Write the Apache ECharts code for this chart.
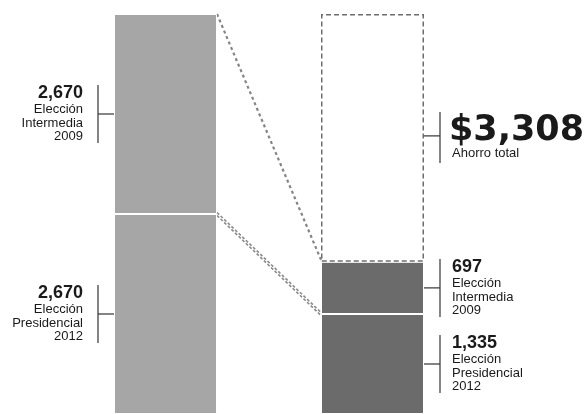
<!DOCTYPE html>
<html>
<head>
<meta charset="utf-8">
<script src="https://cdn.jsdelivr.net/npm/echarts@6/dist/echarts.min.js"></script>
<style>
html,body{margin:0;padding:0;background:#fff;}
#chart{width:588px;height:414px;}
</style>
</head>
<body>
<div id="chart"></div>
<script>
// ---- data ----
const categories = ['Gasto', 'Gasto con ahorro'];
const presidencial2012 = [2670, 1335];
const intermedia2009 = [2670, 697];
const ahorroTotal = [null, 3308];
const presidencialName = ['Elección', 'Presidencial', '2012'];
const intermediaName = ['Elección', 'Intermedia', '2009'];
const ahorroName = 'Ahorro total';
const barColors = ['#a6a6a6', '#6b6b6b'];

// ---- derived segments for labels & connectors ----
const fmt = v => v.toLocaleString('en-US');
const segments = [];
categories.forEach((c, ci) => {
  let base = 0;
  [[presidencial2012, presidencialName], [intermedia2009, intermediaName]].forEach(([arr, name]) => {
    segments.push({cat: ci, low: base, high: base + arr[ci], num: fmt(arr[ci]), name: name.join('\n'), big: false});
    base += arr[ci];
  });
  if (ahorroTotal[ci] != null) {
    segments.push({cat: ci, low: base, high: base + ahorroTotal[ci], num: '$' + fmt(ahorroTotal[ci]), name: ahorroName, big: true});
  }
});
const totals = categories.map((c, i) => presidencial2012[i] + intermedia2009[i]);
const grandTotal = totals[0];
// connectors: top of left bar -> top of right filled bar ; split left -> split right
const connLeft = [totals[0], presidencial2012[0]];
const connRight = [totals[1], presidencial2012[1]];

const BAR_W = 103;
const chart = echarts.init(document.getElementById('chart'));

const option = {
  animation: false,
  backgroundColor: '#fff',
  grid: {left: 62, width: 414, top: 14, bottom: 0},
  xAxis: {type: 'category', data: categories, show: false},
  yAxis: {type: 'value', min: 0, max: grandTotal, show: false},
  series: [
    {
      type: 'bar', stack: 'a', barWidth: BAR_W,
      data: presidencial2012.map((v, i) => ({value: v, itemStyle: {color: barColors[i]}})),
      itemStyle: {borderColor: '#fff', borderWidth: 1}
    },
    {
      type: 'bar', stack: 'a', barWidth: BAR_W,
      data: intermedia2009.map((v, i) => ({value: v, itemStyle: {color: barColors[i]}})),
      itemStyle: {borderColor: '#fff', borderWidth: 1}
    },
    {
      type: 'bar', stack: 'a', barWidth: BAR_W,
      data: ahorroTotal.map(v => v == null ? '-' : v),
      itemStyle: {color: 'rgba(0,0,0,0)', borderColor: '#6e6e6e', borderWidth: 1.5, borderType: [5, 3]}
    },
    {
      type: 'custom',
      data: connLeft.map((v, i) => [0, v, connRight[i]]),
      encode: {x: 0, y: 1},
      renderItem: function (params, api) {
        const i = params.dataIndex;
        const p1 = api.coord([0, api.value(1)]);
        const p2 = api.coord([1, api.value(2)]);
        const x1 = p1[0] + BAR_W / 2, x2 = p2[0] - BAR_W / 2;
        const style = {stroke: '#858585', lineWidth: 2.2, lineDash: [3, 3]};
        if (i === 0) {
          return {type: 'line', shape: {x1: x1, y1: p1[1], x2: x2, y2: p2[1] - 2}, style: style};
        }
        const style2 = {stroke: '#8a8a8a', lineWidth: 1.6, lineDash: [3, 2]};
        return {type: 'group', children: [
          {type: 'line', shape: {x1: x1, y1: p1[1] - 1.5, x2: x2, y2: p2[1] - 1.5}, style: style2},
          {type: 'line', shape: {x1: x1, y1: p1[1] + 1.5, x2: x2, y2: p2[1] + 1.5}, style: style2}
        ]};
      }
    },
    {
      type: 'custom',
      data: segments.map(s => [s.cat, (s.low + s.high) / 2]),
      encode: {x: 0, y: 1},
      renderItem: function (params, api) {
        const s = segments[params.dataIndex];
        const c = api.coord([s.cat, (s.low + s.high) / 2]);
        const left = s.cat === 0;
        const y = c[1] - (s.big ? 2 : 0);
        const edge = left ? c[0] - BAR_W / 2 : c[0] + BAR_W / 2;
        const bx = left ? edge - 16 : edge + 16;
        const lineStyle = {stroke: '#333', lineWidth: 1.2};
        const children = [];
        const top = s.big ? y - 24 : y - 29;
        const bot = s.big ? y + 27 : y + 29;
        children.push({type: 'line', shape: {x1: bx, y1: top, x2: bx, y2: bot}, style: lineStyle});
        children.push({type: 'line', shape: {x1: edge, y1: y, x2: bx, y2: y}, style: lineStyle});
        const tx = left ? bx - 15 : bx + 12;
        const align = left ? 'right' : 'left';
        if (s.big) {
          children.push({type: 'text', style: {text: s.num, x: tx - 3, y: y - 22, fill: '#1a1a1a', align: align, verticalAlign: 'top',
            fontFamily: 'DejaVu Sans', fontWeight: 'bold', fontSize: 35, lineHeight: 34}});
          children.push({type: 'text', style: {text: s.name, x: tx, y: y + 11, fill: '#1a1a1a', align: align, verticalAlign: 'top',
            fontFamily: 'Liberation Sans', fontSize: 13, lineHeight: 13}});
        } else {
          children.push({type: 'text', style: {text: s.num, x: tx, y: y - 30, fill: '#1a1a1a', align: align, verticalAlign: 'top',
            fontFamily: 'Liberation Sans', fontWeight: 'bold', fontSize: 18, lineHeight: 18}});
          children.push({type: 'text', style: {text: s.name, x: tx, y: y - 11, fill: '#1a1a1a', align: align, verticalAlign: 'top',
            fontFamily: 'Liberation Sans', fontSize: 13, lineHeight: 13.5}});
        }
        return {type: 'group', children: children};
      }
    }
  ]
};
chart.setOption(option);
</script>
</body>
</html>
